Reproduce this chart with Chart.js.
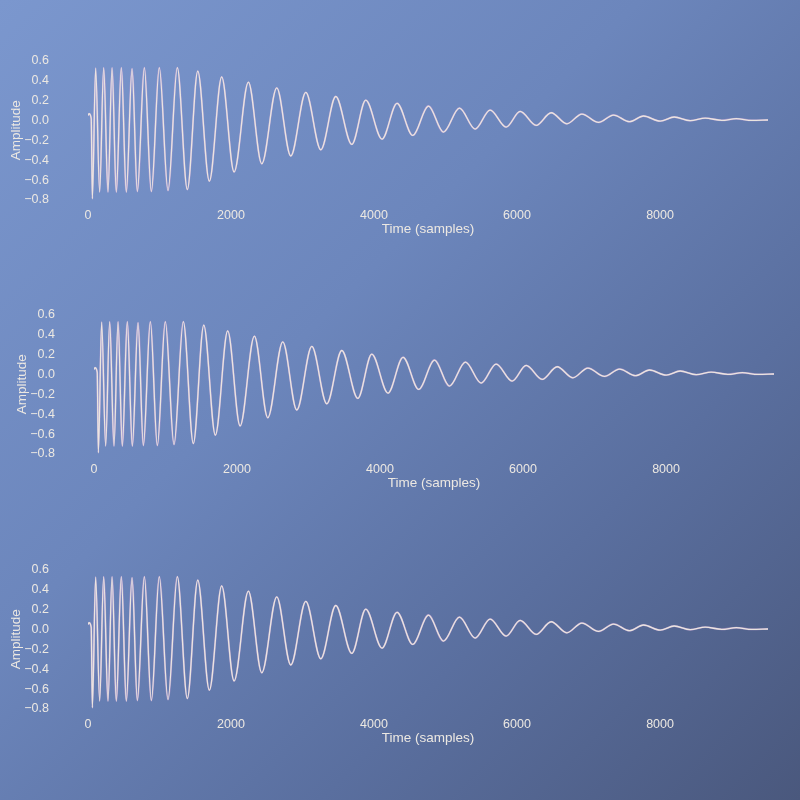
<!DOCTYPE html>
<html>
<head>
<meta charset="utf-8">
<script src="https://cdn.jsdelivr.net/npm/chart.js@4.4.1/dist/chart.umd.min.js"></script>
<style>
  html, body { margin:0; padding:0; width:800px; height:800px; overflow:hidden; }
  body { background: linear-gradient(135deg, #7b97ce 0%, #6c86bc 40%, #5a6f9f 70%, #4a587d 100%); position:relative; }
  canvas { position:absolute; }
</style>
</head>
<body>
<canvas id="c1" width="800" height="254" style="left:0px;top:0px"></canvas>
<canvas id="c2" width="800" height="254" style="left:6px;top:254px"></canvas>
<canvas id="c3" width="800" height="254" style="left:0px;top:509px"></canvas>
<script>
// Extrema of the decaying waveform (sample index, amplitude)
const sampleIdx = [0, 14, 45, 61, 107, 163, 219, 280, 336, 396, 466, 536, 616, 690,
  788, 886, 997, 1119, 1249, 1389, 1535, 1697, 1870, 2043,
  2243, 2430, 2640, 2836, 3046, 3256, 3465, 3689, 3885, 4112,
  4322, 4542, 4761, 4971, 5195, 5414, 5624, 5848, 6044, 6268,
  6477, 6697, 6907, 7139, 7349, 7573, 7769, 8002, 8198, 8422,
  8632, 8865, 9066, 9285, 9510];
const amplitude = [0.05, 0.067, 0.02, -0.787, 0.526, -0.72, 0.53, -0.72, 0.53, -0.72, 0.53, -0.72, 0.52, -0.715,
  0.53, -0.715, 0.53, -0.705, 0.53, -0.695, 0.495, -0.61, 0.437, -0.518,
  0.385, -0.436, 0.327, -0.358, 0.282, -0.295, 0.24, -0.241, 0.203, -0.188,
  0.172, -0.151, 0.144, -0.117, 0.124, -0.087, 0.104, -0.067, 0.09, -0.05,
  0.077, -0.034, 0.064, -0.02, 0.054, -0.013, 0.044, -0.007, 0.034, -0.003,
  0.023, 0.0, 0.017, 0.0, 0.004];
const xTickValues = [0, 2000, 4000, 6000, 8000];
const yTickValues = [-0.8, -0.6, -0.4, -0.2, 0.0, 0.2, 0.4, 0.6];
const xTitle = 'Time (samples)';
const yTitle = 'Amplitude';
const canvasIds = ['c1', 'c2', 'c3'];

const textColor = '#ece8e2';
const FONT = '"Liberation Sans", Arial, sans-serif';

function makeChart(id) {
  const pts = sampleIdx.map((s, i) => ({x: s, y: amplitude[i]}));
  return new Chart(document.getElementById(id), {
    type: 'line',
    data: {
      datasets: [
        { data: pts, borderColor: 'rgba(215,165,220,0.55)', borderWidth: 1.9,
          pointRadius: 0, cubicInterpolationMode: 'monotone', fill: false, order: 2 },
        { data: pts, borderColor: '#ebe5e0', borderWidth: 1.3,
          pointRadius: 0, cubicInterpolationMode: 'monotone', fill: false, order: 1 }
      ]
    },
    options: {
      responsive: false,
      animation: false,
      parsing: false,
      layout: { padding: { top: 60.7, right: 32, left: 0, bottom: 0 } },
      plugins: { legend: { display: false }, tooltip: { enabled: false } },
      scales: {
        x: {
          type: 'linear',
          min: 0, max: sampleIdx[sampleIdx.length - 1],
          grid: { display: false, drawTicks: false },
          border: { display: false },
          afterFit: s => { s.height = 54; },
          afterBuildTicks: s => { s.ticks = xTickValues.map(v => ({value: v})); },
          ticks: { color: textColor, font: { family: FONT, size: 12.5 }, padding: 8,
                   maxRotation: 0, callback: v => String(v) },
          title: { display: true, text: xTitle, color: textColor,
                   font: { family: FONT, size: 13.5 }, padding: { top: 0, bottom: 17 } }
        },
        y: {
          min: -0.8, max: 0.6,
          grid: { display: false, drawTicks: false },
          border: { display: false },
          afterFit: s => { s.width = 88; },
          afterBuildTicks: s => { s.ticks = yTickValues.map(v => ({value: v})); },
          ticks: { color: textColor, font: { family: FONT, size: 12.5 }, padding: 39,
                   callback: v => v.toFixed(1).replace('-', '\u2212') },
          title: { display: true, text: yTitle, color: textColor,
                   font: { family: FONT, size: 13.5 }, padding: { top: 8, bottom: 0 } }
        }
      }
    }
  });
}
canvasIds.forEach(makeChart);
</script>
</body>
</html>
